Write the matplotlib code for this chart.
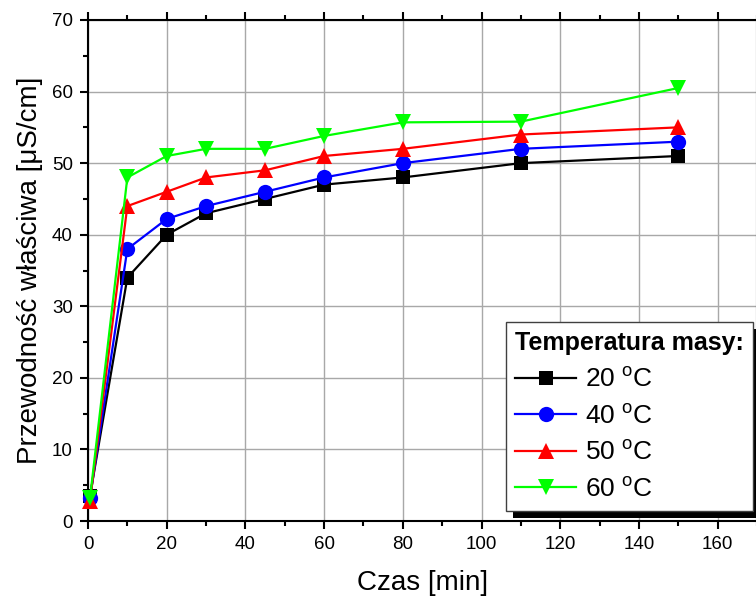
import matplotlib
matplotlib.use("Agg")
import matplotlib.pyplot as plt
from matplotlib.patches import Rectangle
from matplotlib.ticker import MultipleLocator

plt.rcParams['font.family'] = ['Liberation Sans', 'DejaVu Sans']
plt.rcParams['mathtext.fontset'] = 'custom'
plt.rcParams['mathtext.rm'] = 'Liberation Sans'

time_min = [0.5, 10, 20, 30, 45, 60, 80, 110, 150]
series_labels = ['20 $^{\\rm o}$C', '40 $^{\\rm o}$C', '50 $^{\\rm o}$C', '60 $^{\\rm o}$C']
t20 = [3.5, 34, 40, 43, 45, 47, 48, 50, 51]
t40 = [3.2, 38, 42.2, 44, 46, 48, 50, 52, 53]
t50 = [2.8, 44, 46, 48, 49, 51, 52, 54, 55]
t60 = [3.2, 48, 51, 52, 52, 53.8, 55.7, 55.8, 60.5]
series = [t20, t40, t50, t60]
colors = ['black', 'blue', 'red', '#00ff00']
markers = ['s', 'o', '^', 'v']
msizes = [9.5, 11, 12, 12]

W, H = 756, 597
fig = plt.figure(figsize=(W/100, H/100), dpi=100)
ax = fig.add_axes([88/W, 1-521/H, (757-88)/W, (521-20)/H])

for ys, c, m, ms, lab in zip(series, colors, markers, msizes, series_labels):
    ax.plot(time_min, ys, color=c, marker=m, markersize=ms, lw=1.6, label=lab,
            markeredgewidth=0, clip_on=False, zorder=3)

ax.set_xlim(0, 170)
ax.set_ylim(0, 70)
ax.xaxis.set_major_locator(MultipleLocator(20))
ax.xaxis.set_minor_locator(MultipleLocator(10))
ax.yaxis.set_major_locator(MultipleLocator(10))
ax.yaxis.set_minor_locator(MultipleLocator(5))
ax.grid(True, which='major', color='#a8a8a8', lw=1.0)
ax.set_axisbelow(True)
ax.tick_params(which='both', direction='out', top=True, right=True,
               labeltop=False, labelright=False, width=1.5, labelsize=13.5)
ax.tick_params(which='major', length=6, pad=5)
ax.tick_params(which='minor', length=3.5)
for s in ax.spines.values():
    s.set_linewidth(1.5)

ax.set_xlabel('Czas [min]', fontsize=20, labelpad=12)
ax.set_ylabel('Przewodność właściwa [μS/cm]', fontsize=20, labelpad=6)

leg = ax.legend(loc='upper left', bbox_to_anchor=(506/W, 1-322/H),
                bbox_transform=fig.transFigure, title='Temperatura masy:',
                title_fontproperties={'weight': 'bold', 'size': 18},
                alignment='left', fontsize=19, fancybox=False, framealpha=1,
                edgecolor='#404040', handlelength=2.3, handletextpad=0.35,
                labelspacing=0.45, borderpad=0.35, borderaxespad=0)
leg.get_frame().set_linewidth(1.0)
leg.set_zorder(5)

fig.canvas.draw()
bb = leg.get_window_extent().transformed(fig.transFigure.inverted())
off_x, off_y = 7/W, 7/H
ax.add_artist(Rectangle((bb.x0 + off_x, bb.y0 - off_y), bb.width, bb.height,
                        transform=fig.transFigure, facecolor='black',
                        edgecolor='none', zorder=4.5, clip_on=False))

fig.savefig('out.png', dpi=100)
